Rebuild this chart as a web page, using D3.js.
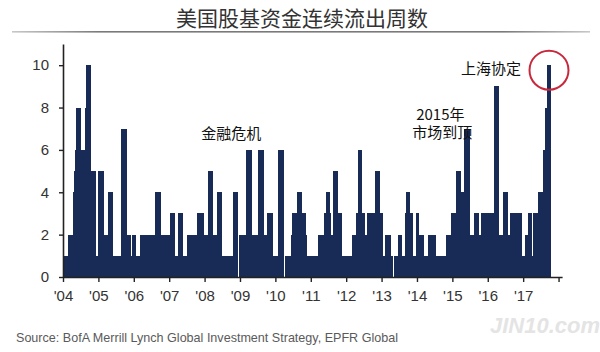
<!DOCTYPE html>
<html>
<head>
<meta charset="utf-8">
<script src="https://cdn.jsdelivr.net/npm/d3@7"></script>
<style>
    body { margin: 0; background: #fff; }
    .chart text { font-family: "Liberation Sans", Arial, sans-serif; }
    .chart .cjk { font-family: "Noto Sans CJK SC", sans-serif; }
</style>
</head>
<body>
<div class="chart"></div>
<script>
// start of each step (decimal year) and the consecutive outflow weeks for it
let periodStart = [
    2004.03, 2004.13, 2004.29, 2004.32, 2004.35, 2004.38, 2004.52, 2004.62, 2004.64, 2004.78,
    2004.92, 2005.00, 2005.16, 2005.26, 2005.41, 2005.64, 2005.81, 2005.92, 2005.96, 2006.06,
    2006.18, 2006.61, 2006.77, 2007.02, 2007.16, 2007.26, 2007.40, 2007.51, 2007.79, 2007.99,
    2008.10, 2008.25, 2008.34, 2008.49, 2008.80, 2008.95, 2008.98, 2009.17, 2009.33, 2009.52,
    2009.68, 2009.76, 2009.92, 2010.08, 2010.23, 2010.26, 2010.44, 2010.48, 2010.62, 2010.75,
    2010.86, 2010.89, 2011.21, 2011.37, 2011.44, 2011.53, 2011.57, 2011.63, 2011.77, 2011.89,
    2012.16, 2012.28, 2012.32, 2012.46, 2012.53, 2012.60, 2012.81, 2012.95, 2013.05, 2013.10,
    2013.26, 2013.31, 2013.34, 2013.47, 2013.59, 2013.66, 2013.70, 2013.80, 2013.90, 2013.97,
    2014.07, 2014.21, 2014.32, 2014.54, 2014.82, 2014.95, 2015.10, 2015.24, 2015.34, 2015.50,
    2015.62, 2015.75, 2015.81, 2016.19, 2016.33, 2016.43, 2016.56, 2016.63, 2016.96, 2017.04,
    2017.13, 2017.24, 2017.28, 2017.42, 2017.57, 2017.62, 2017.66
];
let periodEnd = 2017.80;

let outflowWeeks = [
    1, 2, 4, 5, 6, 8, 6, 8, 10, 5,
    1, 5, 2, 4, 1, 7, 2, 1, 2, 1,
    2, 4, 2, 3, 1, 3, 1, 2, 3, 2,
    5, 2, 4, 1, 4, 0, 2, 6, 2, 6,
    2, 3, 1, 6, 0, 1, 2, 3, 4, 3,
    2, 1, 2, 3, 4, 3, 2, 5, 3, 1,
    2, 3, 6, 3, 2, 3, 5, 3, 1, 2,
    1, 0, 1, 2, 1, 3, 4, 3, 1, 3,
    2, 1, 2, 1, 2, 3, 5, 4, 7, 2,
    3, 2, 3, 9, 2, 4, 2, 3, 1, 2,
    3, 1, 3, 4, 6, 8, 10
];

let yearTicks = [2004, 2005, 2006, 2007, 2008, 2009, 2010, 2011, 2012, 2013, 2014, 2015, 2016, 2017, 2018];
let yearLabels = ["'04", "'05", "'06", "'07", "'08", "'09", "'10", "'11", "'12", "'13", "'14", "'15", "'16", "'17", ""];
let yTicks = [0, 2, 4, 6, 8, 10];

// annotation lines, anchored at a year / value position
let notes = [
    { lines: ["金融危机"], year: 2008.75, value: 6.5 },
    { lines: ["2015年", "市场到顶"], year: 2014.66, value: 7.4 },
    { lines: ["上海协定"], year: 2016.09, value: 9.6 }
];

let title = "美国股基资金连续流出周数";
let source = "Source: BofA Merrill Lynch Global Investment Strategy, EPFR Global";

let width = 600, height = 352;

let svg = d3.select(".chart")
    .append("svg")
    .attr("width", width)
    .attr("height", height);

// title and the rule under it
let grad = svg.append("defs").append("linearGradient")
    .attr("id", "rule");
grad.append("stop").attr("offset", "0%").attr("stop-color", "#c8c8c8");
grad.append("stop").attr("offset", "15%").attr("stop-color", "#7a7a7a");
grad.append("stop").attr("offset", "85%").attr("stop-color", "#7a7a7a");
grad.append("stop").attr("offset", "100%").attr("stop-color", "#c8c8c8");

svg.append("text")
    .attr("class", "cjk")
    .attr("x", 302)
    .attr("y", 26)
    .attr("text-anchor", "middle")
    .style("font-size", "21px")
    .style("fill", "#333")
    .text(title);

svg.append("rect")
    .attr("x", 12).attr("y", 31)
    .attr("width", 578).attr("height", 1.6)
    .style("fill", "url(#rule)");

// scales
let xScale = d3.scaleLinear()
    .domain([2004, 2018.1])
    .range([63, 562.1]);

let yScale = d3.scaleLinear()
    .domain([0, 11])
    .range([277, 44]);

// steps as bars
let steps = periodStart.map((s, i) => ({
    start: s,
    end: i < periodStart.length - 1 ? periodStart[i + 1] : periodEnd,
    value: outflowWeeks[i]
}));

svg.append("g")
    .selectAll("rect")
    .data(steps)
    .enter().append("rect")
    .attr("x", d => xScale(d.start))
    .attr("width", d => xScale(d.end) - xScale(d.start))
    .attr("y", d => yScale(d.value))
    .attr("height", d => yScale(0) - yScale(d.value))
    .style("fill", "#182b56")
    .style("shape-rendering", "crispEdges");

// axes
let xAxis = svg.append("g")
    .attr("transform", "translate(0," + yScale(0) + ")")
    .call(d3.axisBottom(xScale)
        .tickValues(yearTicks)
        .tickSize(5)
        .tickSizeOuter(0)
        .tickPadding(8)
        .tickFormat((d, i) => yearLabels[i]));

let yAxis = svg.append("g")
    .attr("transform", "translate(" + xScale(2004) + ",0)")
    .call(d3.axisLeft(yScale)
        .tickValues(yTicks)
        .tickSize(4)
        .tickSizeOuter(0)
        .tickPadding(10));

[xAxis, yAxis].forEach(a => {
    a.select(".domain").style("stroke", "#222").style("stroke-width", 1.6);
    a.selectAll(".tick line").style("stroke", "#222").style("stroke-width", 1.4);
    a.selectAll(".tick text")
        .style("font-family", "'Liberation Sans', Arial, sans-serif")
        .style("font-size", "15px")
        .style("fill", "#333");
});

// annotations
let note = svg.append("g")
    .selectAll("text")
    .data(notes)
    .enter().append("text")
    .attr("class", "cjk")
    .attr("text-anchor", "middle")
    .style("font-size", "15px")
    .style("fill", "#111");

note.selectAll("tspan")
    .data(d => d.lines.map((l, i) => ({ line: l, i: i, d: d })))
    .enter().append("tspan")
    .attr("x", t => xScale(t.d.year) + (t.i ? 2 : 0))
    .attr("y", t => yScale(t.d.value) + t.i * 18)
    .text(t => t.line);

// circle round the last peak
let last = steps[steps.length - 1];
svg.append("circle")
    .attr("cx", xScale((last.start + last.end) / 2))
    .attr("cy", yScale(last.value) + 5)
    .attr("r", 19.5)
    .style("fill", "none")
    .style("stroke", "#c8283c")
    .style("stroke-width", 2);

// watermark
svg.append("text")
    .attr("x", 490)
    .attr("y", 333)
    .style("font-size", "22px")
    .style("font-weight", "bold")
    .style("font-style", "italic")
    .style("fill", "#e4e4e4")
    .text("JIN10.com");

// source line
svg.append("text")
    .attr("x", 16)
    .attr("y", 342)
    .attr("textLength", 382)
    .attr("lengthAdjust", "spacingAndGlyphs")
    .style("font-size", "13px")
    .style("fill", "#5a5a5a")
    .text(source);
</script>
</body>
</html>
